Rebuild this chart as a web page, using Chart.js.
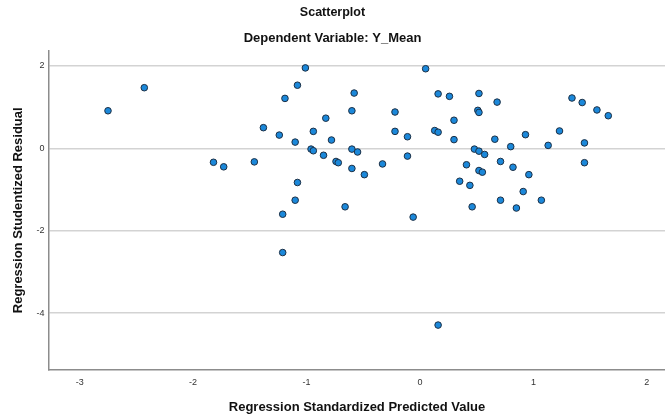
<!DOCTYPE html>
<html>
<head>
<meta charset="utf-8">
<script src="https://cdn.jsdelivr.net/npm/chart.js@4/dist/chart.umd.min.js"></script>
<style>
  html, body { margin: 0; padding: 0; background: #ffffff; }
  #wrap { width: 665px; height: 416px; }
</style>
</head>
<body>
<div id="wrap"><canvas id="scatterChart"></canvas></div>
<script>
/* ---------- data ---------- */

const predictedValue = [
  -2.75, -2.43, -1.82, -1.73, -1.46, -1.38, -1.24, -1.19, -1.21, -1.21,
  -1.10, -1.10, -1.08, -1.08, -1.01, -0.96, -0.94, -0.94, -0.85, -0.83,
  -0.78, -0.74, -0.72, -0.66, -0.60, -0.60, -0.60, -0.58, -0.55, -0.49,
  -0.33, -0.22, -0.22, -0.11, -0.11, -0.06, 0.05, 0.13, 0.16, 0.16,
  0.16, 0.26, 0.30, 0.30, 0.35, 0.41, 0.44, 0.46, 0.48, 0.51,
  0.52, 0.52, 0.52, 0.52, 0.55, 0.57, 0.66, 0.68, 0.71, 0.71,
  0.80, 0.82, 0.85, 0.91, 0.93, 0.96, 1.07, 1.13, 1.23, 1.34,
  1.43, 1.45, 1.45, 1.56, 1.66
];

const studentizedResidual = [
  0.91, 1.47, -0.34, -0.45, -0.33, 0.50, 0.32, 1.21, -1.60, -2.53,
  0.15, -1.26, 1.53, -0.83, 1.95, -0.02, -0.06, 0.41, -0.17, 0.73,
  0.20, -0.32, -0.35, -1.42, 0.91, -0.02, -0.49, 1.34, -0.09, -0.64,
  -0.38, 0.88, 0.41, 0.28, -0.19, -1.67, 1.93, 0.43, 0.39, 1.32,
  -4.29, 1.26, 0.68, 0.21, -0.80, -0.40, -0.90, -1.42, -0.02, 0.92,
  0.87, 1.33, -0.07, -0.54, -0.58, -0.15, 0.22, 1.12, -0.32, -1.26,
  0.04, -0.46, -1.45, -1.05, 0.33, -0.64, -1.26, 0.07, 0.42, 1.22,
  1.11, 0.13, -0.35, 0.93, 0.79
];

const xTickValues = [-3, -2, -1, 0, 1, 2];
const yTickValues = [-4, -2, 0, 2];

/* ---------- chart ---------- */

const points = predictedValue.map((x, i) => ({ x: x, y: studentizedResidual[i] }));

const fontFamily = "'Liberation Sans', Arial, sans-serif";

const ctx = document.getElementById("scatterChart").getContext("2d");

new Chart(ctx, {
  type: "scatter",
  data: {
    datasets: [{
      data: points,
      backgroundColor: "#1b88da",
      borderColor: "#1c2f44",
      borderWidth: 1,
      pointRadius: 3.3,
      pointHoverRadius: 3.3
    }]
  },
  options: {
    responsive: true,
    maintainAspectRatio: false,
    animation: false,
    layout: { padding: 0, autoPadding: false },
    plugins: {
      legend: { display: false },
      tooltip: { enabled: false },
      title: {
        display: true,
        text: "Scatterplot",
        color: "#111",
        font: { family: fontFamily, size: 12.5, weight: "bold" },
        padding: { top: 5, bottom: 11 }
      },
      subtitle: {
        display: true,
        text: "Dependent Variable: Y_Mean",
        color: "#111",
        font: { family: fontFamily, size: 13, weight: "bold" },
        padding: { top: 0, bottom: 4 }
      }
    },
    scales: {
      x: {
        type: "linear",
        min: -3.27,
        max: 2.16,
        afterBuildTicks: (scale) => {
          scale.ticks = xTickValues.map(v => ({ value: v }));
        },
        afterFit: (scale) => {
          scale.height = 46;
          scale.paddingLeft = 0;
          scale.paddingRight = 0;
        },
        grid: { display: false, drawTicks: false },
        border: { display: true, color: "#8c8c8c", width: 1.5 },
        ticks: {
          color: "#333",
          padding: 7.5,
          font: { family: fontFamily, size: 9 }
        },
        title: {
          display: true,
          text: "Regression Standardized Predicted Value",
          color: "#111",
          font: { family: fontFamily, size: 13, weight: "bold" },
          padding: { top: 12, bottom: 1.2 }
        }
      },
      y: {
        type: "linear",
        min: -5.38,
        max: 2.37,
        afterBuildTicks: (scale) => {
          scale.ticks = yTickValues.map(v => ({ value: v }));
        },
        afterFit: (scale) => {
          scale.width = 49;
          scale.paddingTop = 0;
          scale.paddingBottom = 0;
        },
        grid: { color: "#d3d3d3", lineWidth: 1.5, drawTicks: false },
        border: { display: true, color: "#8c8c8c", width: 1.5 },
        ticks: {
          color: "#333",
          padding: 4.5,
          font: { family: fontFamily, size: 9 }
        },
        title: {
          display: true,
          text: "Regression Studentized Residual",
          color: "#111",
          font: { family: fontFamily, size: 13, weight: "bold" },
          padding: { top: 10.2, bottom: 4 }
        }
      }
    }
  }
});
</script>
</body>
</html>
